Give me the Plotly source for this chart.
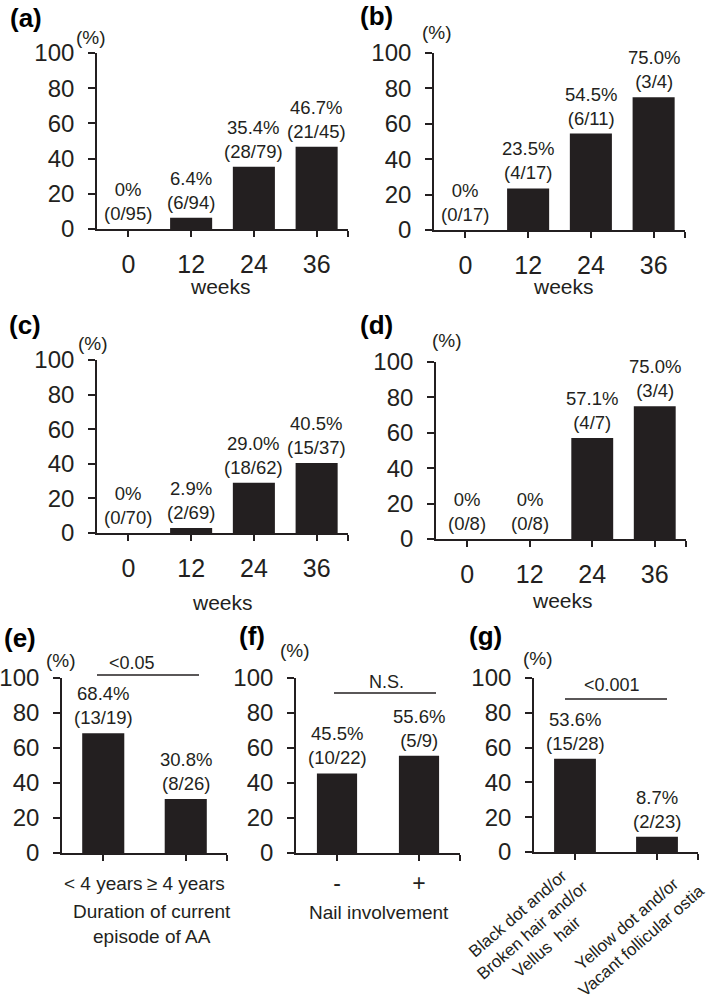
import plotly.graph_objects as go

W, H = 709, 1003
FONT = "Liberation Sans, Arial, sans-serif"
INK = "#231F20"

# ---------------- data ----------------
weeks = ["0", "12", "24", "36"]
a_vals = [0, 6.4, 35.4, 46.7]
a_counts = ["0/95", "6/94", "28/79", "21/45"]
b_vals = [0, 23.5, 54.5, 75.0]
b_counts = ["0/17", "4/17", "6/11", "3/4"]
c_vals = [0, 2.9, 29.0, 40.5]
c_counts = ["0/70", "2/69", "18/62", "15/37"]
d_vals = [0, 0, 57.1, 75.0]
d_counts = ["0/8", "0/8", "4/7", "3/4"]

e_cats = ["< 4 years", "≥ 4 years"]
e_vals = [68.4, 30.8]
e_counts = ["13/19", "8/26"]
f_cats = ["-", "+"]
f_vals = [45.5, 55.6]
f_counts = ["10/22", "5/9"]
g_cats = ["Black dot and/or<br>Broken hair and/or<br>Vellus  hair",
          "Yellow dot and/or<br>Vacant follicular ostia"]
g_vals = [53.6, 8.7]
g_counts = ["15/28", "2/23"]

e_p = "<0.05"
f_p = "N.S."
g_p = "<0.001"

y_ticks = [0, 20, 40, 60, 80, 100]


def px_x(p):
    return p / W


def px_y(p):
    return 1 - p / H


# panel geometry in pixels: (left, right, top, bottom)
panels = [
    dict(name="a", cats=weeks, vals=a_vals, counts=a_counts, box=(97, 348, 53, 229), bw=0.67, tf=25, so=6),
    dict(name="b", cats=weeks, vals=b_vals, counts=b_counts, box=(434, 685, 53, 230), bw=0.67, tf=25, so=6),
    dict(name="c", cats=weeks, vals=c_vals, counts=c_counts, box=(97, 348, 360, 533), bw=0.67, tf=25, so=6),
    dict(name="d", cats=weeks, vals=d_vals, counts=d_counts, box=(436, 686, 362, 539), bw=0.67, tf=25, so=6),
    dict(name="e", cats=e_cats, vals=e_vals, counts=e_counts, box=(62, 227, 678, 853), bw=0.51, tf=19, so=6),
    dict(name="f", cats=f_cats, vals=f_vals, counts=f_counts, box=(296, 460, 678, 853), bw=0.49, tf=23, so=3),
    dict(name="g", cats=g_cats, vals=g_vals, counts=g_counts, box=(534, 698, 678, 852), bw=0.51, tf=17, so=4),
]

fig = go.Figure()
annotations = []
layout = {}

for i, p in enumerate(panels, start=1):
    xa = "x" if i == 1 else f"x{i}"
    ya = "y" if i == 1 else f"y{i}"
    n = len(p["cats"])
    xs = list(range(n))
    fig.add_trace(go.Bar(
        x=xs, y=p["vals"], width=p["bw"],
        marker=dict(color=INK, line=dict(width=0)),
        xaxis=xa, yaxis=ya, showlegend=False, hoverinfo="skip",
    ))
    l, r, t, b = p["box"]
    rotated = p["name"] == "g"
    tickvals = xs + [n - 0.5]
    ticktext = ([""] * n if rotated else p["cats"]) + [""]
    xkey = "xaxis" if i == 1 else f"xaxis{i}"
    ykey = "yaxis" if i == 1 else f"yaxis{i}"
    layout[xkey] = dict(
        domain=[px_x(l), px_x(r)], anchor=ya, range=[-0.5, n - 0.5],
        tickmode="array", tickvals=tickvals, ticktext=ticktext,
        ticks="outside", ticklen=6, tickwidth=1.5, tickcolor=INK,
        showline=True, linewidth=1.6, linecolor=INK,
        showgrid=False, zeroline=False, fixedrange=True, automargin=False,
        tickfont=dict(family=FONT, size=p["tf"], color=INK),
        ticklabelstandoff=p["so"],
    )
    layout[ykey] = dict(
        domain=[px_y(b), px_y(t)], anchor=xa, range=[0, 100],
        tickmode="array", tickvals=y_ticks,
        ticks="outside", ticklen=7, tickwidth=1.5, tickcolor=INK,
        showline=True, linewidth=1.6, linecolor=INK,
        showgrid=False, zeroline=False, fixedrange=True, automargin=False,
        tickfont=dict(family=FONT, size=24, color=INK),
        ticklabelstandoff=9,
    )
    for k, (v, c) in enumerate(zip(p["vals"], p["counts"])):
        pct = "0%" if v == 0 else f"{v:.1f}%"
        annotations.append(dict(
            x=k, y=v, xref=xa, yref=ya, yanchor="bottom", yshift=3,
            text=f"{pct}<br>({c})", showarrow=False,
            font=dict(family=FONT, size=18.5, color=INK),
        ))
    if rotated:
        # rotated, centred multi-line category labels placed through the category axis
        shifts = [(-43, -78), (-23, -80)]
        for k, cat in enumerate(p["cats"]):
            annotations.append(dict(
                x=k, y=0, xref=xa, yref=f"{ya} domain",
                xshift=shifts[k][0], yshift=shifts[k][1],
                xanchor="center", yanchor="middle", align="center",
                textangle=-41, text=cat, showarrow=False,
                font=dict(family=FONT, size=p["tf"], color=INK),
            ))


def label(text, x, y, size, bold=False):
    annotations.append(dict(
        x=px_x(x), y=px_y(y), xref="paper", yref="paper",
        xanchor="center", yanchor="middle", showarrow=False,
        text=f"<b>{text}</b>" if bold else text,
        font=dict(family=FONT, size=size, color="#000000" if bold else INK),
    ))


# panel letters
for txt, x, y in [("(a)", 26, 18), ("(b)", 377, 16), ("(c)", 25, 325), ("(d)", 377, 325),
                  ("(e)", 20, 638), ("(f)", 252, 636), ("(g)", 485, 636)]:
    label(txt, x, y, 26, bold=True)

# (%) unit labels
for x, y in [(91, 38), (437, 32), (93, 344), (447, 340), (61, 660), (295, 650), (538, 658)]:
    label("(%)", x, y, 19)

# x titles
for x, y in [(220, 287), (563, 287), (222, 602), (562, 600)]:
    label("weeks", x, y, 21)
label("Duration of current<br>episode of AA", 152, 924, 19)
label("Nail involvement", 379, 912, 19)

# significance text + lines
label(e_p, 132, 663, 18)
label(f_p, 386, 682, 18)
label(g_p, 612, 685, 18)
shapes = []
for x0, x1, y in [(97, 199, 675), (334, 436, 693), (565, 667, 699)]:
    shapes.append(dict(type="line", xref="paper", yref="paper",
                       x0=px_x(x0), x1=px_x(x1), y0=px_y(y), y1=px_y(y),
                       line=dict(color=INK, width=1.5)))

fig.update_layout(
    width=W, height=H, margin=dict(l=0, r=0, t=0, b=0),
    paper_bgcolor="white", plot_bgcolor="white",
    annotations=annotations, shapes=shapes,
    font=dict(family=FONT, color=INK),
    **layout,
)

fig.write_html("out.html", config={"displayModeBar": False},
               post_script="document.body.style.margin='0px';")
